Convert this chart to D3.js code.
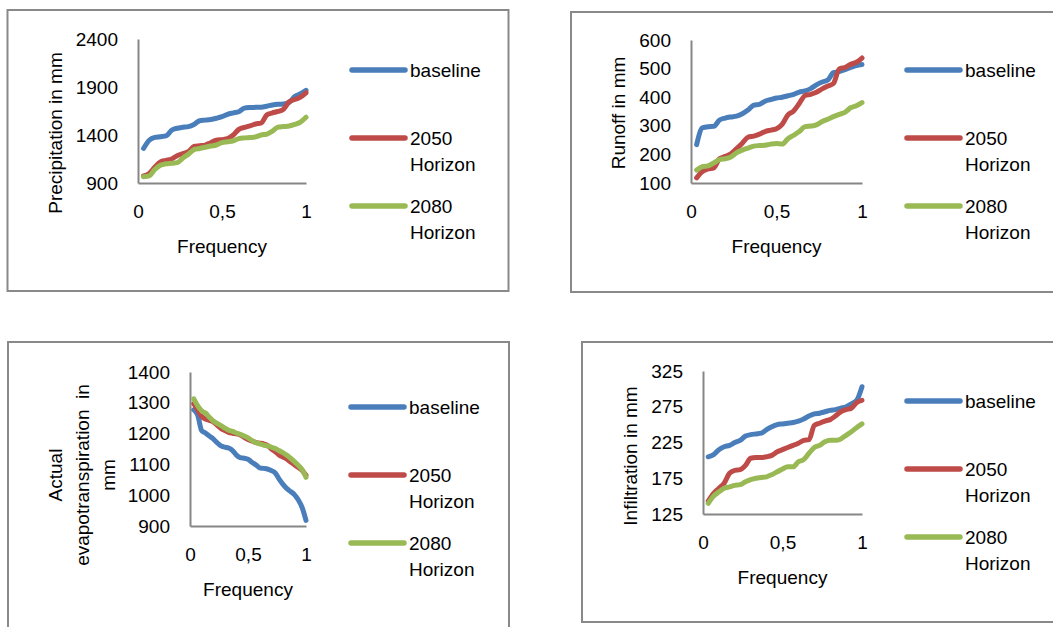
<!DOCTYPE html>
<html>
<head>
<meta charset="utf-8">
<script src="https://cdn.jsdelivr.net/npm/d3@7"></script>
<style>
  body { margin: 0; background: #fff; }
  text { font-family: "Liberation Sans", Arial, sans-serif; font-size: 19px; fill: #000; white-space: pre; }
</style>
</head>
<body>
<svg width="1053" height="627"></svg>
<script>
// exceedance frequency of each ranked year
const frequency = [0.033, 0.067, 0.100, 0.133, 0.167, 0.200, 0.233, 0.267, 0.300, 0.333,
  0.367, 0.400, 0.433, 0.467, 0.500, 0.533, 0.567, 0.600, 0.633, 0.667,
  0.700, 0.733, 0.767, 0.800, 0.833, 0.867, 0.900, 0.933, 0.967, 1.000];

const seriesNames = ["baseline", "2050\nHorizon", "2080\nHorizon"];
const xTicks = [0, 0.5, 1];

const precipTicks = [900, 1400, 1900, 2400];
const precipBaseline = [1260, 1345, 1375, 1382, 1390, 1450, 1470, 1480, 1487, 1510, 1549, 1555, 1562, 1575, 1591,
  1615, 1630, 1643, 1680, 1686, 1688, 1690, 1700, 1712, 1720, 1723, 1740, 1800, 1830, 1865];
const precip2050 = [973, 1000, 1065, 1120, 1135, 1150, 1185, 1205, 1226, 1280, 1288, 1295, 1320, 1345, 1352,
  1362, 1400, 1459, 1480, 1495, 1515, 1525, 1610, 1630, 1645, 1670, 1747, 1770, 1795, 1840];
const precip2080 = [966, 975, 1040, 1085, 1100, 1105, 1112, 1160, 1200, 1248, 1260, 1272, 1285, 1296, 1320,
  1330, 1340, 1362, 1370, 1374, 1380, 1400, 1410, 1440, 1482, 1488, 1494, 1510, 1535, 1585];

const runoffTicks = [100, 200, 300, 400, 500, 600];
const runoffBaseline = [234, 293, 297, 298, 320, 327, 331, 334, 342, 355, 372, 375, 386, 392, 397,
  400, 405, 410, 418, 422, 430, 443, 453, 460, 486, 490, 496, 504, 511, 514];
const runoff2050 = [118, 140, 149, 153, 185, 193, 202, 220, 239, 260, 264, 271, 280, 285, 290,
  305, 338, 352, 378, 406, 410, 417, 429, 439, 448, 499, 504, 515, 522, 537];
const runoff2080 = [145, 157, 160, 170, 182, 185, 191, 206, 215, 222, 229, 231, 232, 236, 238,
  236, 255, 267, 280, 297, 299, 303, 315, 323, 332, 340, 347, 363, 370, 381];

const etTicks = [900, 1000, 1100, 1200, 1300, 1400];
const etBaseline = [1277, 1259, 1210, 1202, 1192, 1183, 1171, 1160, 1156, 1153, 1145, 1130, 1122, 1120, 1117,
  1107, 1099, 1089, 1087, 1085, 1080, 1073, 1053, 1036, 1022, 1012, 1002, 985, 960, 918];
const et2050 = [1297, 1276, 1256, 1247, 1243, 1238, 1228, 1217, 1210, 1204, 1201, 1199, 1196, 1188, 1181,
  1176, 1171, 1169, 1167, 1162, 1151, 1142, 1131, 1124, 1118, 1108, 1099, 1090, 1080, 1065];
const et2080 = [1313, 1290, 1274, 1267, 1253, 1241, 1233, 1226, 1218, 1211, 1207, 1202, 1198, 1192, 1186,
  1178, 1171, 1167, 1163, 1160, 1156, 1152, 1145, 1138, 1130, 1120, 1109, 1097, 1083, 1058];

const infilTicks = [125, 175, 225, 275, 325];
const infilBaseline = [205, 208, 215, 219, 221, 225, 228, 234, 236, 237, 238, 243, 247, 250, 251,
  252, 253, 255, 258, 262, 265, 266, 268, 270, 271, 273, 275, 279, 284, 303];
const infil2050 = [143, 154, 161, 168, 182, 186, 187, 193, 203, 204, 204, 205, 207, 212, 215,
  218, 221, 224, 228, 229, 249, 252, 255, 257, 262, 268, 271, 273, 281, 284];
const infil2080 = [140, 150, 156, 161, 163, 165, 166, 170, 173, 175, 176, 177, 180, 184, 188,
  191, 191, 198, 201, 210, 218, 221, 226, 228, 228, 230, 235, 240, 246, 251];

const colors = ["#4a7ebb", "#be4b48", "#98b954"];

const panels = [
  { title: ["Precipitation in mm"], titleX: 55, titleY: 133, box: [7.5, 10, 501, 281],
    x0: 138, x1: 306, yTop: 39, yBot: 183, ticks: precipTicks,
    series: [precipBaseline, precip2050, precip2080], legX: 352, legY: 70 },
  { title: ["Runoff in mm"], titleX: 618, titleY: 113, box: [571, 12, 500, 280],
    x0: 691, x1: 862, yTop: 40, yBot: 183, ticks: runoffTicks,
    series: [runoffBaseline, runoff2050, runoff2080], legX: 907, legY: 70 },
  { title: ["Actual", "evapotranspiration  in", "mm"], titleX: 82, titleY: 475, box: [8, 342, 501, 300],
    x0: 190, x1: 306, yTop: 372, yBot: 526, ticks: etTicks,
    series: [etBaseline, et2050, et2080], legX: 351, legY: 407 },
  { title: ["Infiltration in mm"], titleX: 630, titleY: 456, box: [582, 342, 500, 280],
    x0: 703, x1: 862, yTop: 371, yBot: 514, ticks: infilTicks,
    series: [infilBaseline, infil2050, infil2080], legX: 907, legY: 401 }
];

const svg = d3.select("svg");
svg.append("rect").attr("width", 1053).attr("height", 627).attr("fill", "#fff");

panels.forEach(p => {
  const g = svg.append("g");

  g.append("rect")
    .attr("x", p.box[0]).attr("y", p.box[1])
    .attr("width", p.box[2]).attr("height", p.box[3])
    .attr("fill", "#fff").attr("stroke", "#898989").attr("stroke-width", 2);

  const x = d3.scaleLinear().domain([0, 1]).range([p.x0, p.x1]);
  const y = d3.scaleLinear().domain(d3.extent(p.ticks)).range([p.yBot, p.yTop]);

  const yAxis = g.append("g")
    .attr("transform", `translate(${p.x0},0)`)
    .call(d3.axisLeft(y).tickValues(p.ticks).tickSize(0).tickPadding(20).tickFormat(d3.format("d")));
  const xAxis = g.append("g")
    .attr("transform", `translate(0,${p.yBot})`)
    .call(d3.axisBottom(x).tickValues(xTicks).tickSize(0).tickPadding(22)
      .tickFormat(d => String(d).replace(".", ",")));
  [yAxis, xAxis].forEach(a => {
    a.select(".domain").attr("stroke", "#868686").attr("stroke-width", 2);
    a.selectAll("text").style("font-size", "19px").style("font-family", "Liberation Sans, Arial, sans-serif").attr("fill", "#000");
  });

  const line = d3.line()
    .x((d, i) => x(frequency[i]))
    .y(d => y(d))
    .curve(d3.curveMonotoneX);

  p.series.forEach((s, i) => {
    g.append("path")
      .datum(s)
      .attr("d", line)
      .attr("fill", "none")
      .attr("stroke", colors[i])
      .attr("stroke-width", 5)
      .attr("stroke-linejoin", "round")
      .attr("stroke-linecap", "round");
  });

  // axis titles
  g.append("text")
    .attr("x", (p.x0 + p.x1) / 2)
    .attr("y", p.yBot + 63)
    .attr("text-anchor", "middle")
    .attr("dy", "0.35em")
    .text("Frequency");

  const n = p.title.length;
  p.title.forEach((t, i) => {
    const cx = p.titleX + (i - (n - 1) / 2) * 26.5;
    g.append("text")
      .attr("transform", `translate(${cx},${p.titleY}) rotate(-90)`)
      .attr("text-anchor", "middle")
      .attr("dy", "0.35em")
      .text(t);
  });

  // legend
  const legOffsets = [0, 68, 136];
  seriesNames.forEach((name, i) => {
    const ly = p.legY + legOffsets[i];
    g.append("line")
      .attr("x1", p.legX).attr("x2", p.legX + 53)
      .attr("y1", ly).attr("y2", ly)
      .attr("stroke", colors[i]).attr("stroke-width", 5.5)
      .attr("stroke-linecap", "round");
    name.split("\n").forEach((part, j) => {
      g.append("text")
        .attr("x", p.legX + 58)
        .attr("y", ly + j * 26)
        .attr("dy", "0.35em")
        .text(part);
    });
  });
});
</script>
</body>
</html>
